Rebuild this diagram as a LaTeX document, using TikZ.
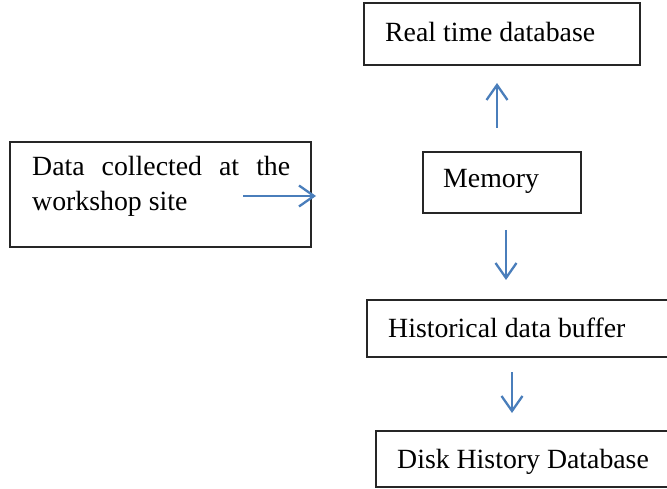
\documentclass[tikz,border=0pt]{standalone}
\usepackage{fontspec}
\setmainfont{Liberation Serif}
\usetikzlibrary{arrows.meta}
\definecolor{arrowblue}{RGB}{74,126,187}
\begin{document}
\begin{tikzpicture}[x=1pt,y=-1pt,
  boxframe/.style={draw=black!85,line width=1.1pt},
  lbl/.style={anchor=base west,inner sep=0pt,font=\fontsize{27.8}{33}\selectfont},
  flow/.style={draw=arrowblue,line width=2.3pt,-{Straight Barb[length=15pt,width=21pt,line width=2.3pt]}}]
\useasboundingbox (0,0) rectangle (667,489);
% boxes
\path[boxframe] (10,142) rectangle (311,247);
\path[boxframe] (364,3) rectangle (640,65);
\path[boxframe] (423,152) rectangle (581,213);
\path[boxframe] (367,300) rectangle (669,357);
\path[boxframe] (376,431) rectangle (669,487);
% texts
\node[lbl] (d1) at (32,176) {\makebox[258pt][s]{Data collected at the}};
\node[lbl] (d2) at (32,211) {workshop site};
\node[lbl] (rt) at (385,42) {Real time database};
\node[lbl] (mem) at (443,188) {Memory};
\node[lbl] (hist) at (388,337) {Historical data buffer};
\node[lbl] (disk) at (397,468) {Disk History Database};
% arrow end points
\coordinate (a1s) at (243,196);
\coordinate (a1e) at (316,196);
\coordinate (a2s) at (497,128);
\coordinate (a2e) at (497,83);
\coordinate (a3s) at (506,230);
\coordinate (a3e) at (506,280);
\coordinate (a4s) at (512,372);
\coordinate (a4e) at (512,413);
\draw[flow] (a1s) -- (a1e);
\draw[flow] (a2s) -- (a2e);
\draw[flow] (a3s) -- (a3e);
\draw[flow] (a4s) -- (a4e);
\end{tikzpicture}
\end{document}
